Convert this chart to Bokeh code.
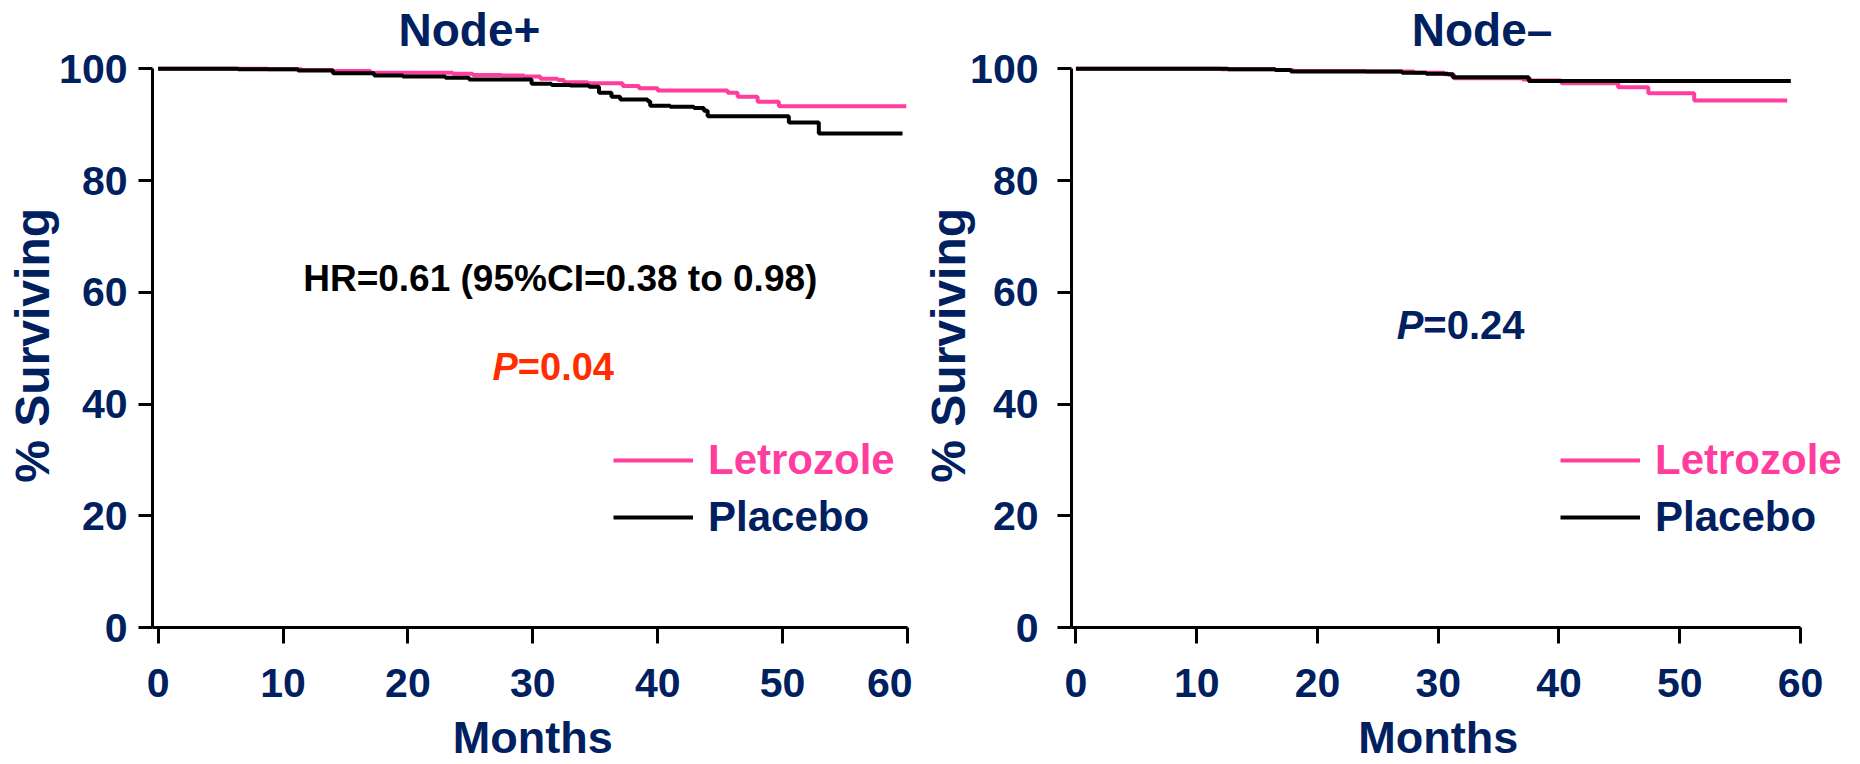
import math
from bokeh.plotting import figure
from bokeh.layouts import row
from bokeh.models import Label, Legend, LegendItem, FixedTicker, Range1d
from bokeh.embed import file_html
from bokeh.resources import INLINE

FONT = "Liberation Sans"
NAVY = "#002060"
PINK = "#FF3D9E"
RED = "#FF2D00"

# Kaplan-Meier estimates (months, % surviving)
nodepos_letrozole_t = [0, 8.8, 11.5, 14.0, 17.0, 23.6, 25.2, 27.5, 29.3, 30.6, 32.0, 32.5, 34.4,
                       37.2, 38.5, 40.0, 45.6, 46.4, 48.0, 49.7, 59.9]
nodepos_letrozole_s = [100, 99.9, 99.8, 99.6, 99.3, 99.1, 98.9, 98.8, 98.6, 98.2, 98.0, 97.6, 97.4,
                       96.9, 96.5, 96.1, 95.7, 95.0, 94.1, 93.3, 93.3]
nodepos_placebo_t = [0, 6.4, 11.2, 14.0, 17.3, 19.6, 23.0, 24.9, 29.9, 31.5, 33.0, 34.5, 35.3,
                     36.3, 37.0, 39.2, 39.4, 41.0, 42.9, 43.7, 44.0, 50.5, 52.9, 59.6]
nodepos_placebo_s = [100, 99.9, 99.7, 99.2, 98.8, 98.6, 98.4, 98.1, 97.3, 97.1, 97.0, 96.8, 95.7,
                     95.0, 94.5, 94.2, 93.4, 93.2, 93.0, 92.5, 91.5, 90.4, 88.4, 88.4]

nodeneg_letrozole_t = [0, 12.0, 16.5, 18.0, 24.0, 28.0, 30.5, 31.3, 37.0, 37.7, 40.2, 44.9, 47.4,
                       51.2, 58.9]
nodeneg_letrozole_s = [100, 99.9, 99.8, 99.6, 99.5, 99.3, 99.0, 98.3, 98.1, 97.9, 97.4, 96.7, 95.6,
                       94.3, 94.3]
nodeneg_placebo_t = [0, 12.6, 16.5, 17.8, 27.0, 29.0, 30.8, 31.2, 37.5, 59.2]
nodeneg_placebo_s = [100, 99.9, 99.8, 99.5, 99.3, 99.1, 99.0, 98.5, 97.8, 97.8]

month_ticks = [0, 10, 20, 30, 40, 50, 60]
surv_ticks = [0, 20, 40, 60, 80, 100]
group_names = ["Letrozole", "Placebo"]
panel_titles = ["Node+", "Node\u2013"]
x_title = "Months"
y_title = "% Surviving"
hr_text = "HR=0.61 (95%CI=0.38 to 0.98)"
p_values = ["=0.04", "=0.24"]

H = 764


def text(p, x, y, s, size, color, style="bold", align="center", angle=0.0):
    p.add_layout(Label(x=x, y=y, text=s, text_align=align, text_baseline="middle",
                       angle=angle, text_font=FONT, text_font_style=style,
                       text_font_size=size, text_color=color))


def style_axes(p, axis_x, tick_standoff_y):
    p.outline_line_color = None
    p.xgrid.visible = False
    p.ygrid.visible = False
    for ax in (p.xaxis[0], p.yaxis[0]):
        ax.axis_line_width = 3
        ax.axis_line_color = "black"
        ax.major_tick_line_width = 3
        ax.major_tick_line_color = "black"
        ax.major_tick_in = 0
        ax.minor_tick_in = 0
        ax.minor_tick_out = 0
        ax.major_label_text_font = FONT
        ax.major_label_text_font_style = "bold"
        ax.major_label_text_font_size = "41px"
        ax.major_label_text_color = NAVY
    xa = p.xaxis[0]
    xa.ticker = FixedTicker(ticks=month_ticks)
    xa.fixed_location = 0
    xa.bounds = (axis_x, 60)
    xa.major_tick_out = 16
    xa.major_label_standoff = 25
    ya = p.yaxis[0]
    ya.ticker = FixedTicker(ticks=surv_ticks)
    ya.fixed_location = axis_x
    ya.bounds = (0, 100)
    ya.major_tick_out = 14
    ya.major_label_standoff = tick_standoff_y


def key(p, renderer, label, color, x, y):
    leg = Legend(items=[LegendItem(label=label, renderers=[renderer])],
                 location=(x, y), orientation="vertical",
                 border_line_color=None, background_fill_alpha=0,
                 padding=0, margin=0, spacing=0,
                 glyph_width=80, glyph_height=50, label_height=50, label_standoff=15,
                 label_text_font=FONT, label_text_font_style="bold",
                 label_text_font_size="42px", label_text_color=color)
    p.add_layout(leg)


def panel(width, x_start, x_end, axis_x, tick_standoff_y,
          let_t, let_s, pla_t, pla_s, title, title_x, key_x, ylab_x):
    p = figure(width=width, height=H, output_backend="svg", toolbar_location=None,
               title=None, x_range=Range1d(x_start, x_end), y_range=Range1d(-24.52, 112.22),
               min_border_left=0, min_border_right=0, min_border_top=0, min_border_bottom=0,
               background_fill_color="white", border_fill_color="white")
    style_axes(p, axis_x, tick_standoff_y)
    r_let = p.step(let_t, let_s, mode="after", line_color=PINK, line_width=4)
    r_pla = p.step(pla_t, pla_s, mode="after", line_color="black", line_width=4)
    text(p, title_x, 107.0, title, "46px", NAVY)
    text(p, 30.0, -19.6, x_title, "45px", NAVY)
    text(p, ylab_x, 50.5, y_title, "48px", NAVY, angle=math.pi / 2)
    key(p, r_let, group_names[0], PINK, key_x, 279)
    key(p, r_pla, group_names[1], NAVY, key_x, 222)
    return p


left = panel(912, -12.618, 60.40, -0.448, 11,
             nodepos_letrozole_t, nodepos_letrozole_s, nodepos_placebo_t, nodepos_placebo_s,
             panel_titles[0], 24.93, 613, -10.06)
text(left, 32.2, 62.4, hr_text, "37px", "black")
text(left, 26.77, 46.6, "P", "38px", RED, style="bold italic", align="left")
text(left, 28.8, 46.6, p_values[0], "38px", RED, align="left")

right = panel(948, -13.534, 64.97, -0.367, 19,
              nodeneg_letrozole_t, nodeneg_letrozole_s, nodeneg_placebo_t, nodeneg_placebo_s,
              panel_titles[1], 33.63, 648, -10.59)
text(right, 26.56, 54.2, "P", "40px", NAVY, style="bold italic", align="left")
text(right, 28.77, 54.2, p_values[1], "40px", NAVY, align="left")

layout = row(left, right, spacing=0)
open("out.html", "w").write(file_html(layout, INLINE))
